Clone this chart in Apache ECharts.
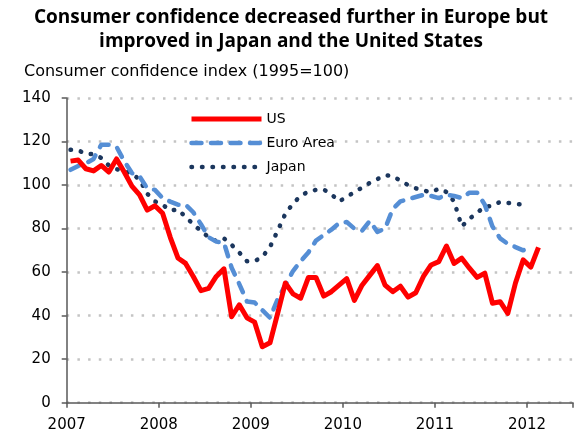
<!DOCTYPE html>
<html>
<head>
<meta charset="utf-8">
<script src="https://cdn.jsdelivr.net/npm/echarts@6/dist/echarts.min.js"></script>
<style>
html,body{margin:0;padding:0;background:#fff;}
#chart{width:576px;height:434px;}
</style>
</head>
<body>
<div id="chart"></div>
<script>
// Monthly data, Jan 2007 = month 0
const startYear = 2007;
const yTicks = [0, 20, 40, 60, 80, 100, 120, 140];
const xYearLabels = ['2007', '2008', '2009', '2010', '2011', '2012'];

const usValues = [111, 111.5, 107.5, 106.5, 109, 106, 112, 106, 99.5, 95.5, 88.5, 90.5,
  87, 76, 66.5, 64, 58, 51.5, 52.5, 58, 61.5, 39.5, 45, 39,
  37, 25.7, 27.5, 41, 55, 50, 48, 57.5, 57.5, 49, 51, 54,
  57, 47, 54, 58.5, 63, 54, 51, 53.5, 48.5, 50.5, 58, 63.3,
  64.8, 72, 64, 66.4, 61.8, 57.6, 59.5, 45.7, 46.4, 41, 55, 65.6,
  62.3, 71.4];

const euroValues = [107, 108.8, 110, 112, 118.5, 118.5, 117.5, 111, 105.5, 104, 98.5, 97.8,
  94, 92.4, 91, 91, 87.5, 82, 76, 74, 73.5, 62, 54.5, 46.5,
  46, 42.5, 39, 47.5, 54, 60.5, 65, 69, 74.5, 77, 79.5, 82.5,
  83, 80, 79, 83.5, 78.5, 80, 89, 92.5, 93.5, 94.5, 95.5, 95,
  94, 95.5, 95, 94, 96.5, 96.5, 91, 81, 75.5, 73, 71.5, 70,
  71.5];

const japanValues = [116.2, 116, 114.3, 114.3, 112.5, 109, 107.3, 106.3, 105.3, 102.5, 96, 92.5,
  91, 88.3, 88.8, 85.3, 82, 79, 76, 74.3, 75.5, 72.5, 69, 65,
  65, 67, 71.5, 79, 86.8, 91.5, 95, 97, 97.8, 98, 95.8, 92.5,
  94.5, 96.8, 98.8, 101, 102.7, 104.5, 104.2, 102, 100, 98.5, 97.5, 96.7,
  98.3, 96.8, 92.5, 81, 84.5, 87.3, 90.1, 90.4, 92.3, 91.8, 91.4, 91];

function toPoints(vals) {
  // plotted at mid-month
  return vals.map((v, i) => [i + 0.5, v]);
}

const chart = echarts.init(document.getElementById('chart'), null, {renderer: 'canvas'});
const axisColor = '#595959';
const labelFont = 'DejaVu Sans';
const usStyle = {color: '#ff0000', width: 5, join: 'round'};
const euroStyle = {color: '#558ed5', width: 4.5, type: [10, 9.5], cap: 'round', join: 'round'};
const japanStyle = {color: '#1b365d', width: 4.5, type: [0.5, 10], cap: 'round', join: 'round'};
const hiddenSymbol = {opacity: 0};

chart.setOption({
  animation: false,
  backgroundColor: '#ffffff',
  title: [{
    text: 'Consumer confidence decreased further in Europe but\nimproved in Japan and the United States',
    left: 291,
    top: 6,
    padding: 0,
    textAlign: 'center',
    textStyle: {fontFamily: 'Open Sans', fontWeight: 'bold', fontSize: 19, lineHeight: 24, color: '#000'}
  }, {
    text: 'Consumer confidence index (1995=100)',
    left: 24,
    top: 64,
    padding: 0,
    textStyle: {fontFamily: labelFont, fontWeight: 'normal', fontSize: 16, color: '#000'}
  }],
  legend: {
    orient: 'vertical',
    left: 189,
    top: 112,
    padding: 0,
    itemWidth: 70,
    itemHeight: 14,
    itemGap: 10,
    textStyle: {fontFamily: labelFont, fontSize: 14, color: '#000'},
    data: [
      {name: 'US', lineStyle: usStyle, itemStyle: hiddenSymbol},
      {name: 'Euro Area', lineStyle: euroStyle, itemStyle: hiddenSymbol},
      {name: 'Japan', lineStyle: japanStyle, itemStyle: hiddenSymbol}
    ]
  },
  grid: {left: 66.7, right: 0, top: 98, bottom: 31.3, containLabel: false},
  xAxis: {
    type: 'value',
    min: 0,
    max: 66,
    interval: 12,
    axisLine: {show: true, lineStyle: {color: axisColor, width: 1.5}},
    axisTick: {show: true, inside: false, length: 5, lineStyle: {color: axisColor, width: 1.5}},
    splitLine: {show: false},
    axisLabel: {
      margin: 15,
      fontFamily: labelFont, fontSize: 15, color: '#000',
      formatter: function (v) {
        if (v % 12 !== 0) return '';
        return xYearLabels[v / 12] || String(startYear + v / 12);
      }
    }
  },
  yAxis: {
    type: 'value',
    min: yTicks[0],
    max: yTicks[yTicks.length - 1],
    interval: 20,
    axisLine: {show: true, lineStyle: {color: axisColor, width: 1.5}},
    axisTick: {show: true, inside: false, length: 5, lineStyle: {color: axisColor, width: 1.5}},
    splitLine: {show: true, lineStyle: {color: '#c4c4c4', width: 2.5, type: [2.5, 8.2]}},
    axisLabel: {margin: 16, fontFamily: labelFont, fontSize: 15, color: '#000'}
  },
  series: [{
    name: 'US',
    type: 'line',
    data: toPoints(usValues),
    symbol: 'none',
    z: 5,
    lineStyle: usStyle,
    itemStyle: {color: '#ff0000'}
  }, {
    name: 'Euro Area',
    type: 'line',
    data: toPoints(euroValues),
    symbol: 'none',
    z: 4,
    lineStyle: euroStyle,
    itemStyle: {color: '#558ed5'}
  }, {
    name: 'Japan',
    type: 'line',
    data: toPoints(japanValues),
    symbol: 'none',
    z: 3,
    lineStyle: japanStyle,
    itemStyle: {color: '#1b365d'}
  }]
});
</script>
</body>
</html>
